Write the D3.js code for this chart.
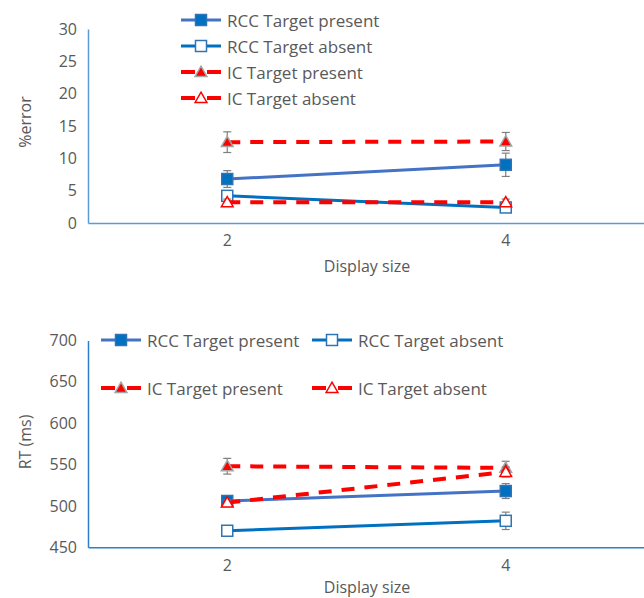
<!DOCTYPE html>
<html>
<head>
<meta charset="utf-8">
<script src="https://cdn.jsdelivr.net/npm/d3@7"></script>
<style>
  body { margin: 0; background: #fff; }
  svg { display: block; }
  text { font-family: "Open Sans", sans-serif; fill: #595959; }
</style>
</head>
<body>
<svg id="chart" width="644" height="598"></svg>
<script>
// Display sizes on the x axis
const displaySizes = ["2", "4"];

// Series labels
const seriesNames = ["RCC Target present", "RCC Target absent", "IC Target present", "IC Target absent"];

// %error means and error-bar half widths, per display size
const errRccPresent = [6.8, 9.0];
const errRccPresentBar = [1.3, 1.8];
const errRccAbsent = [4.2, 2.4];
const errRccAbsentBar = [0.7, 0.5];
const errIcPresent = [12.5, 12.6];
const errIcPresentBar = [1.6, 1.4];
const errIcAbsent = [3.2, 3.2];
const errIcAbsentBar = [0.5, 0.5];

// RT (ms) means and error-bar half widths, per display size
const rtRccPresent = [506, 518];
const rtRccPresentBar = [3, 9];
const rtRccAbsent = [470, 482];
const rtRccAbsentBar = [2, 10.5];
const rtIcPresent = [548, 546];
const rtIcPresentBar = [9.5, 8];
const rtIcAbsent = [504, 541];
const rtIcAbsentBar = [3, 6];

// Axis tick values
const errorTicks = [0, 5, 10, 15, 20, 25, 30];
const rtTicks = [450, 500, 550, 600, 650, 700];

// Visual styling of each series (same order as seriesNames)
const styles = [
  { line: "#4472c4", width: 3, dash: null, shape: "square", fill: "#0070c0", stroke: "#2e75b6" },
  { line: "#0070c0", width: 3, dash: null, shape: "square", fill: "#ffffff", stroke: "#2e75b6" },
  { line: "#ff0000", width: 4, dash: "13,10", shape: "triangle", fill: "#ff0000", stroke: "#a5a5a5" },
  { line: "#ff0000", width: 4, dash: "13,10", shape: "triangle", fill: "#ffffff", stroke: "#ff0000" }
];

const svg = d3.select("#chart");

function marker(g, shape, cx, cy, st) {
  if (shape === "square") {
    g.append("rect")
      .attr("x", cx - 5.5).attr("y", cy - 5.5)
      .attr("width", 11).attr("height", 11)
      .attr("fill", st.fill).attr("stroke", st.stroke).attr("stroke-width", 1.5);
  } else {
    g.append("path")
      .attr("d", d3.symbol(d3.symbolTriangle, 60)())
      .attr("transform", `translate(${cx},${cy + 1})`)
      .attr("fill", st.fill).attr("stroke", st.stroke).attr("stroke-width", 1.5);
  }
}

function drawPanel(cfg) {
  const g = svg.append("g");
  const x = d3.scaleBand().domain(displaySizes).range([88, 645]);
  const y = d3.scaleLinear().domain(cfg.domain).range(cfg.yRange);
  const cx = d => x(d) + x.bandwidth() / 2;

  // y axis
  const ya = g.append("g").attr("transform", "translate(88,0)")
    .call(d3.axisLeft(y).tickValues(cfg.ticks).tickSize(0).tickPadding(11));
  ya.select(".domain").attr("stroke", cfg.axisColor).attr("stroke-width", 1.5);
  ya.selectAll("text").style("font-size", "16px").style("font-family", "Open Sans").attr("fill", "#595959");

  // x axis
  const xa = g.append("g").attr("transform", `translate(0,${cfg.yRange[0]})`)
    .call(d3.axisBottom(x).tickSize(0).tickPadding(12));
  xa.select(".domain").attr("stroke", cfg.axisColor).attr("stroke-width", 1.5);
  xa.selectAll("text").style("font-size", "16px").style("font-family", "Open Sans").attr("fill", "#595959");

  // axis titles
  g.append("text").attr("x", 367).attr("y", cfg.yRange[0] + cfg.xTitleGap)
    .attr("text-anchor", "middle").attr("dominant-baseline", "central")
    .style("font-size", "16px").text("Display size");
  g.append("text")
    .attr("transform", `translate(25,${cfg.yTitleY}) rotate(-90)`)
    .attr("text-anchor", "middle").attr("dominant-baseline", "central")
    .style("font-size", "16px").text(cfg.yTitle);

  // series
  cfg.series.forEach((s, i) => {
    const st = styles[i];
    const pts = displaySizes.map((d, j) => ({ x: cx(d), v: s.values[j], e: s.bars[j] }));
    const sg = g.append("g");
    sg.append("path")
      .attr("d", d3.line().x(p => p.x).y(p => y(p.v))(pts))
      .attr("fill", "none").attr("stroke", st.line).attr("stroke-width", st.width)
      .attr("stroke-dasharray", st.dash);
    pts.forEach(p => {
      const y0 = y(p.v - p.e), y1 = y(p.v + p.e);
      sg.append("line").attr("x1", p.x).attr("x2", p.x).attr("y1", y0).attr("y2", y1)
        .attr("stroke", "#7f7f7f").attr("stroke-width", 1.2);
      [y0, y1].forEach(yy => sg.append("line")
        .attr("x1", p.x - 4).attr("x2", p.x + 4).attr("y1", yy).attr("y2", yy)
        .attr("stroke", "#7f7f7f").attr("stroke-width", 1.2));
    });
    pts.forEach(p => marker(sg, st.shape, p.x, y(p.v), st));
  });

  // legend
  cfg.legendPos.forEach((pos, i) => {
    const st = styles[i];
    const lg = g.append("g").attr("transform", `translate(${pos[0]},${pos[1]})`);
    lg.append("line").attr("x1", 0).attr("x2", 40).attr("y1", 0).attr("y2", 0)
      .attr("stroke", st.line).attr("stroke-width", st.width)
      .attr("stroke-dasharray", st.dash ? "14,12,14" : null);
    marker(lg, st.shape, 20, 0, st);
    lg.append("text").attr("x", 46).attr("y", 0).attr("dominant-baseline", "central")
      .style("font-size", "17px").text(seriesNames[i]);
  });
}

drawPanel({
  domain: [0, 30], yRange: [223, 29], ticks: errorTicks, axisColor: "#5b9bd5",
  yTitle: "%error", yTitleY: 122, xTitleGap: 43,
  series: [
    { values: errRccPresent, bars: errRccPresentBar },
    { values: errRccAbsent, bars: errRccAbsentBar },
    { values: errIcPresent, bars: errIcPresentBar },
    { values: errIcAbsent, bars: errIcAbsentBar }
  ],
  legendPos: [[181, 20], [181, 46], [181, 72], [181, 98]]
});

drawPanel({
  domain: [450, 700], yRange: [547.3, 340.5], ticks: rtTicks, axisColor: "#2e7fcb",
  yTitle: "RT (ms)", yTitleY: 442, xTitleGap: 40,
  series: [
    { values: rtRccPresent, bars: rtRccPresentBar },
    { values: rtRccAbsent, bars: rtRccAbsentBar },
    { values: rtIcPresent, bars: rtIcPresentBar },
    { values: rtIcAbsent, bars: rtIcAbsentBar }
  ],
  legendPos: [[101, 340], [312, 340], [101, 388], [312, 388]]
});
</script>
</body>
</html>
